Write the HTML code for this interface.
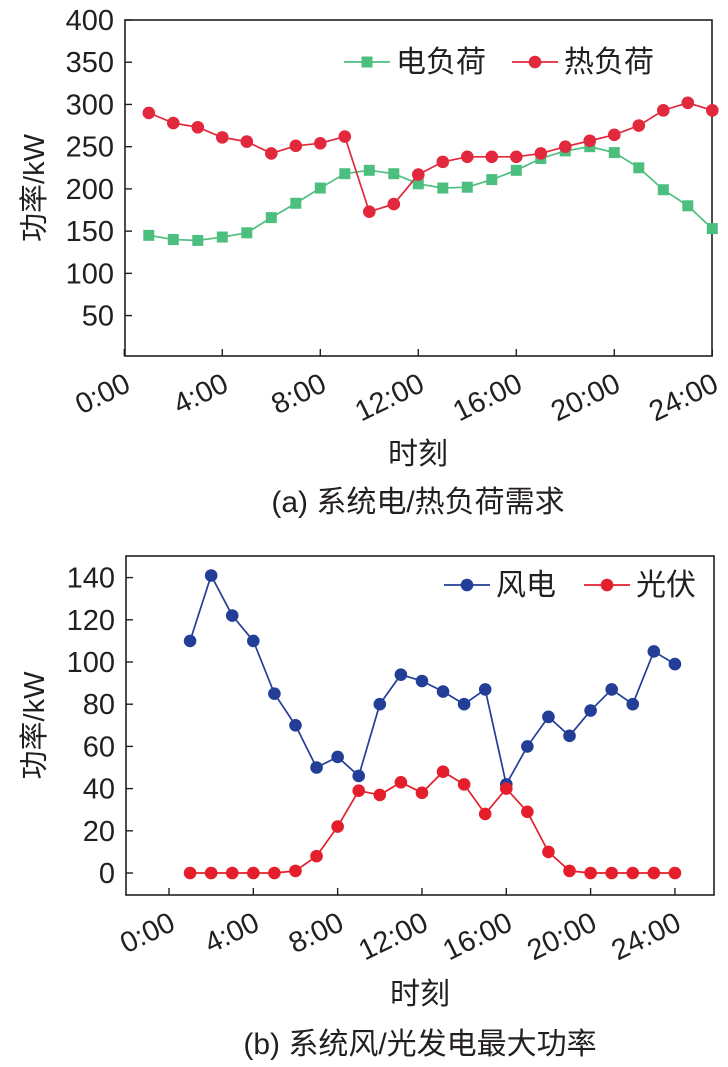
<!DOCTYPE html>
<html><head><meta charset="utf-8"><style>
body{margin:0;background:#fff;width:728px;height:1062px;overflow:hidden}
text{font-family:"Liberation Sans","Noto Sans CJK SC",sans-serif;fill:#231f20}
</style></head><body>
<svg id="s" width="728" height="1062"></svg>
<script>
const hours=[1,2,3,4,5,6,7,8,9,10,11,12,13,14,15,16,17,18,19,20,21,22,23,24];
const elecLoad=[145,140,139,143,148,166,183,201,218,222,218,206,201,202,211,222,236,245,250,243,225,199,180,153];
const heatLoad=[290,278,273,261,256,242,251,254,262,173,182,217,232,238,238,238,242,250,257,264,275,293,302,293];
const wind=[110,141,122,110,85,70,50,55,46,80,94,91,86,80,87,42,60,74,65,77,87,80,105,99];
const pv=[0,0,0,0,0,1,8,22,39,37,43,38,48,42,28,40,29,10,1,0,0,0,0,0];
const xTicks=[0,4,8,12,16,20,24];
const xTickLabels=["0:00","4:00","8:00","12:00","16:00","20:00","24:00"];
const yTicksA=[50,100,150,200,250,300,350,400];
const yTicksB=[0,20,40,60,80,100,120,140];
const NS="http://www.w3.org/2000/svg";
const svg=document.getElementById('s');
function mk(t,a,p){const e=document.createElementNS(NS,t);for(const k in a)e.setAttribute(k,a[k]);(p||svg).appendChild(e);return e;}
function chart(o){
  const g=mk('g',{});
  
  
  const X=h=>o.x0+h*o.xs, Y=v=>o.y0-v*o.ys;
  const f=mk('rect',{x:o.L,y:o.T,width:o.R-o.L,height:o.B-o.T,fill:'none',stroke:'#231f20','stroke-width':1.6},g);
  
  o.yt.forEach(v=>{mk('line',{x1:o.L,x2:o.L+7,y1:Y(v),y2:Y(v),stroke:'#231f20','stroke-width':1.4},g);
    const t=mk('text',{x:o.L-11,y:Y(v)+10,'text-anchor':'end','font-size':29},g);t.textContent=v;
    });
  xTicks.forEach((h,i)=>{mk('line',{x1:X(h),x2:X(h),y1:o.B,y2:o.B-7,stroke:'#231f20','stroke-width':1.4},g);
    const t=mk('text',{x:X(h)+8,y:o.B+34,'text-anchor':'end','font-size':29,transform:`rotate(-26 ${X(h)+8} ${o.B+34})`},g);t.textContent=xTickLabels[i];
    });
  o.series.forEach(s=>{
    const p=mk('polyline',{points:hours.map((h,i)=>X(h)+','+Y(s.d[i])).join(' '),fill:'none',stroke:s.c,'stroke-width':1.7},g);
    
    hours.forEach((h,i)=>{let m;
      if(s.sq)m=mk('rect',{x:X(h)-5.5,y:Y(s.d[i])-5.5,width:11,height:11,fill:s.c},g);
      else m=mk('circle',{cx:X(h),cy:Y(s.d[i]),r:6.3,fill:s.c},g);
      });
  });
  const yl=mk('text',{x:44,y:(o.T+o.B)/2,'text-anchor':'middle','font-size':29,transform:`rotate(-90 44 ${(o.T+o.B)/2})`},g);
  yl.textContent='功率/kW';
  const xl=mk('text',{x:o.xlx,y:o.xly,'text-anchor':'middle','font-size':30},g);
  xl.textContent='时刻';
  const cap=mk('text',{x:o.xlx,y:o.capy,'text-anchor':'middle','font-size':30},g);
  cap.textContent=o.cap;
  o.leg.forEach(l=>{
    const lg=mk('g',{},g);
    mk('line',{x1:l.x,x2:l.x+46,y1:l.y,y2:l.y,stroke:l.c,'stroke-width':1.7},lg);
    if(l.sq)mk('rect',{x:l.x+17.5,y:l.y-5.5,width:11,height:11,fill:l.c},lg);else mk('circle',{cx:l.x+23,cy:l.y,r:6.3,fill:l.c},lg);
    const t=mk('text',{x:l.x+52,y:l.y+10,'font-size':30},lg);t.textContent=l.t;});
}
chart({name:'load-chart',L:125,R:712,T:20,B:356,x0:124.3,xs:24.5,y0:357.8,ys:0.8445,yt:yTicksA,
  series:[{n:'elec-load',d:elecLoad,c:'#4cbf7f',sq:1},{n:'heat-load',d:heatLoad,c:'#e2283c'}],
  xlx:418,xly:464,capy:512,cap:'(a) 系统电/热负荷需求',
  leg:[{x:344,y:62,c:'#4cbf7f',sq:1,t:'电负荷'},{x:512,y:62,c:'#e2283c',t:'热负荷'}]});
chart({name:'generation-chart',L:126,R:714,T:556,B:895,x0:169,xs:21.08,y0:873,ys:2.11,yt:yTicksB,
  series:[{n:'wind',d:wind,c:'#233e97'},{n:'pv',d:pv,c:'#e41e2b'}],
  xlx:420,xly:1004,capy:1054,cap:'(b) 系统风/光发电最大功率',
  leg:[{x:444,y:585,c:'#233e97',t:'风电'},{x:584,y:585,c:'#e41e2b',t:'光伏'}]});
</script></body></html>
